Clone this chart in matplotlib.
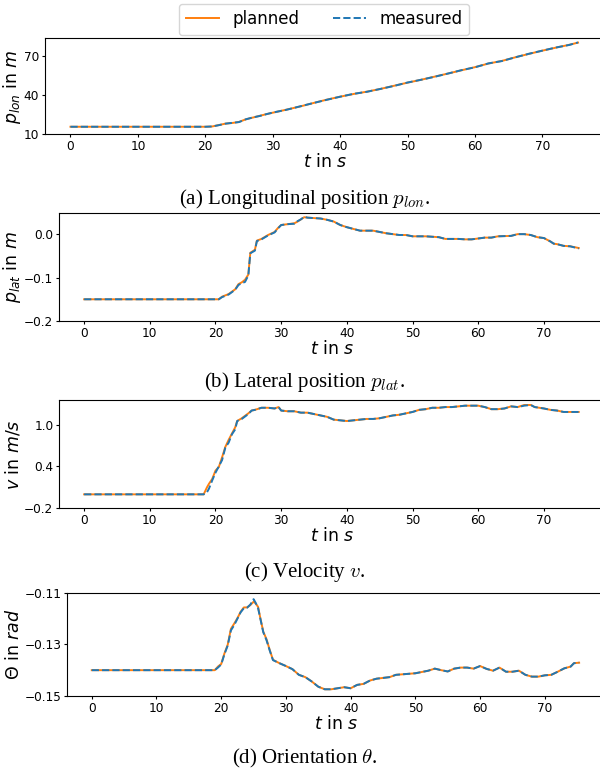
import matplotlib
matplotlib.use("Agg")
import matplotlib.pyplot as plt

# --- data (time in s) ---
t_lon = [0, 20, 21, 22, 23, 24, 25, 26, 27, 28, 29, 30, 32, 34, 36, 38, 40, 42, 44, 46,
         48, 50, 52, 54, 56, 58, 60, 62, 64, 66, 68, 70, 72, 74, 75.3]
lon_planned = [15.8, 15.8, 16.0, 17.1, 18.2, 18.7, 19.5, 21.5, 22.8, 24.1, 25.4, 26.6, 28.9, 31.3,
               34.0, 36.6, 38.9, 41.0, 42.8, 44.9, 47.3, 49.7, 51.9, 54.3, 56.7, 59.2, 61.6, 64.4,
               66.4, 69.2, 71.8, 74.3, 76.6, 78.8, 80.5]
lon_measured = [15.8, 15.8, 16.0, 17.0, 18.2, 18.8, 19.4, 21.5, 22.9, 24.0, 25.4, 26.7, 28.8, 31.4,
                34.0, 36.5, 38.9, 41.1, 42.7, 44.9, 47.2, 49.8, 51.9, 54.2, 56.7, 59.3, 61.5, 64.5,
                66.3, 69.2, 71.9, 74.3, 76.7, 78.7, 80.6]

t_lat = [0, 20.5, 21, 22, 23, 23.5, 24, 24.5, 25, 25.3, 26, 26.3, 27, 28, 29, 29.5, 30, 31, 32,
         32.5, 33, 33.5, 34, 35, 36, 37, 38, 39, 40, 41, 42, 44, 45, 46, 47, 48, 49, 50, 52, 54,
         55, 57, 58, 59, 60, 61, 62, 63, 65, 66, 67, 68, 69, 70, 71, 71.5, 72, 73, 74, 75, 75.3]
lat_planned = [-0.150, -0.150, -0.144, -0.138, -0.127, -0.115, -0.111, -0.105, -0.093, -0.043,
               -0.036, -0.015, -0.011, -0.002, 0.005, 0.014, 0.021, 0.023, 0.025, 0.029,
               0.034, 0.039, 0.038, 0.037, 0.036, 0.033, 0.029, 0.021, 0.016, 0.012,
               0.008, 0.008, 0.005, 0.002, 0.000, -0.002, -0.002, -0.005, -0.005, -0.007,
               -0.011, -0.011, -0.012, -0.012, -0.010, -0.008, -0.008, -0.005, -0.004, 0.000,
               0.000, -0.002, -0.007, -0.009, -0.017, -0.022, -0.023, -0.027, -0.028, -0.031,
               -0.032]
lat_measured = [-0.150, -0.150, -0.145, -0.139, -0.128, -0.117, -0.113, -0.110, -0.095, -0.044,
                -0.038, -0.016, -0.012, -0.003, 0.004, 0.013, 0.021, 0.023, 0.024, 0.030,
                0.034, 0.040, 0.038, 0.037, 0.036, 0.033, 0.029, 0.021, 0.016, 0.012,
                0.008, 0.008, 0.005, 0.002, 0.000, -0.002, -0.002, -0.005, -0.005, -0.007,
                -0.011, -0.011, -0.012, -0.012, -0.010, -0.008, -0.008, -0.005, -0.004, 0.000,
                0.000, -0.002, -0.007, -0.009, -0.017, -0.022, -0.023, -0.027, -0.028, -0.032,
                -0.033]

t_vel = [0, 18.2, 18.7, 19, 19.5, 20, 20.5, 21, 21.5, 22, 22.5, 23, 23.3, 24, 25, 25.5, 26, 27,
         28, 29, 29.6, 30, 31, 32, 33, 34, 35, 36, 37, 38, 39, 40, 41, 42, 43, 44, 45, 46, 47,
         48, 49, 50, 51, 52, 53, 54, 55, 56, 57, 58, 59, 60, 61, 62, 63, 64, 65, 66, 67, 68,
         68.6, 70, 71, 72, 73, 74, 75.3]
vel_planned = [0.0, 0.0, 0.10, 0.15, 0.22, 0.34, 0.39, 0.53, 0.68, 0.78, 0.87, 0.96, 1.05, 1.09,
               1.16, 1.20, 1.21, 1.24, 1.24, 1.23, 1.25, 1.20, 1.19, 1.19, 1.17, 1.17, 1.15, 1.13,
               1.11, 1.07, 1.06, 1.05, 1.06, 1.07, 1.08, 1.08, 1.09, 1.11, 1.13, 1.14, 1.16, 1.18,
               1.21, 1.22, 1.24, 1.24, 1.25, 1.25, 1.26, 1.27, 1.27, 1.27, 1.25, 1.22, 1.22, 1.23,
               1.26, 1.25, 1.28, 1.28, 1.25, 1.23, 1.21, 1.20, 1.18, 1.18, 1.18]
vel_measured = [0.0, 0.0, 0.03, 0.08, 0.20, 0.31, 0.40, 0.49, 0.67, 0.74, 0.86, 0.93, 1.05, 1.08,
                1.15, 1.20, 1.21, 1.24, 1.24, 1.23, 1.25, 1.20, 1.19, 1.19, 1.17, 1.17, 1.15, 1.13,
                1.11, 1.07, 1.06, 1.05, 1.06, 1.07, 1.08, 1.08, 1.09, 1.11, 1.13, 1.14, 1.16, 1.18,
                1.21, 1.22, 1.24, 1.24, 1.25, 1.25, 1.26, 1.27, 1.27, 1.27, 1.25, 1.22, 1.22, 1.23,
                1.26, 1.25, 1.27, 1.28, 1.25, 1.23, 1.21, 1.20, 1.18, 1.18, 1.18]

t_ori = [0, 19, 19.5, 20, 20.5, 21, 21.5, 22, 22.5, 23, 23.5, 24, 24.5, 25, 25.3, 25.7, 26, 26.5,
         27, 27.5, 28, 29, 30, 31, 32, 33, 34, 35, 36, 37, 38, 39, 40, 41, 42, 43, 44, 45, 46,
         47, 48, 49, 50, 51, 52, 53, 54, 55, 56, 57, 58, 59, 60, 61, 62, 63, 64, 65, 66, 67, 68,
         69, 70, 71, 72, 73, 74, 74.5, 75.3]
ori_planned = [-0.1400, -0.1400, -0.1386, -0.1376, -0.1335, -0.1302, -0.1240, -0.1220, -0.1199,
               -0.1174, -0.1157, -0.1157, -0.1148, -0.1135, -0.1141, -0.1155, -0.1193, -0.1251,
               -0.1280, -0.1322, -0.1360, -0.1373, -0.1384, -0.1396, -0.1418, -0.1427, -0.1444,
               -0.1464, -0.1474, -0.1474, -0.1470, -0.1466, -0.1470, -0.1457, -0.1453, -0.1440,
               -0.1433, -0.1430, -0.1427, -0.1418, -0.1416, -0.1414, -0.1412, -0.1407, -0.1402,
               -0.1394, -0.1400, -0.1405, -0.1394, -0.1390, -0.1390, -0.1394, -0.1384, -0.1395,
               -0.1402, -0.1390, -0.1406, -0.1406, -0.1402, -0.1418, -0.1425, -0.1425, -0.1420,
               -0.1418, -0.1406, -0.1393, -0.1386, -0.1373, -0.1371]
ori_measured = [-0.1400, -0.1400, -0.1390, -0.1378, -0.1338, -0.1305, -0.1246, -0.1226, -0.1201,
                -0.1176, -0.1160, -0.1158, -0.1146, -0.1125, -0.1138, -0.1160, -0.1195, -0.1253,
                -0.1284, -0.1324, -0.1361, -0.1373, -0.1384, -0.1396, -0.1418, -0.1427, -0.1444,
                -0.1464, -0.1474, -0.1474, -0.1470, -0.1466, -0.1470, -0.1457, -0.1453, -0.1440,
                -0.1433, -0.1430, -0.1427, -0.1418, -0.1416, -0.1414, -0.1412, -0.1407, -0.1402,
                -0.1394, -0.1400, -0.1405, -0.1394, -0.1390, -0.1390, -0.1394, -0.1384, -0.1395,
                -0.1402, -0.1390, -0.1406, -0.1406, -0.1402, -0.1418, -0.1425, -0.1425, -0.1420,
                -0.1418, -0.1406, -0.1393, -0.1386, -0.1373, -0.1371]

panels = [
    (t_lon, lon_planned, lon_measured, r'$p_{lon}$ in $m$', (10, 83.8), [10, 40, 70],
     r'(a) Longitudinal position $p_{lon}$.'),
    (t_lat, lat_planned, lat_measured, r'$p_{lat}$ in $m$', (-0.2, 0.048), [-0.2, -0.1, 0.0],
     r'(b) Lateral position $p_{lat}$.'),
    (t_vel, vel_planned, vel_measured, r'$v$ in $m/s$', (-0.2, 1.347), [-0.2, 0.4, 1.0],
     r'(c) Velocity $v$.'),
    (t_ori, ori_planned, ori_measured, r'$\Theta$ in $rad$', (-0.15, -0.11), [-0.15, -0.13, -0.11],
     r'(d) Orientation $\theta$.'),
]

# pixel layout of the cropped sub-figures: left, top, bottom, ylabel x, xlabel y, caption y
W, H = 600, 772
layout = [(45, 38.3, 134.3, 23, 158, 199),
          (59.3, 213.3, 321, 23, 346, 382),
          (59.3, 400.3, 508.3, 23, 533, 572),
          (67.3, 592.7, 696, 23, 720, 758)]

fig = plt.figure(figsize=(W / 100, H / 100), dpi=100)

for (t, planned, measured, ylab, ylim, yticks, caption), (l, top, bot, ylx, xly, cy) in zip(panels, layout):
    ax = fig.add_axes([l / W, 1 - bot / H, (605 - l) / W, (bot - top) / H])
    ax.plot(t, planned, color='tab:orange', lw=1.4, label='planned')
    ax.plot(t, measured, color='tab:blue', lw=1.4, ls='--', label='measured')
    ax.set_xlim(-3.78, 79.3)
    ax.set_ylim(*ylim)
    ax.set_yticks(yticks)
    ax.set_xticks([0, 10, 20, 30, 40, 50, 60, 70])
    ax.tick_params(labelsize=8.7, length=2.5, pad=1.8)
    ax.set_ylabel(ylab, fontsize=12.5)
    ax.yaxis.set_label_coords((ylx - l) / (605 - l), 0.5)
    ax.set_xlabel(r'$t$ in $s$', fontsize=12.5, labelpad=0)
    fig.text(0.508, 1 - cy / H, caption, ha='center', va='center', fontsize=15,
             family='Liberation Serif', math_fontfamily='cm')
    if caption.startswith('(a)'):
        handles, labels = ax.get_legend_handles_labels()

fig.legend(handles, labels, loc='center', bbox_to_anchor=(324 / W, 1 - 19.3 / H), ncol=2,
           fontsize=12, handlelength=2.0, columnspacing=2.0)

fig.savefig('out.png', dpi=100)
